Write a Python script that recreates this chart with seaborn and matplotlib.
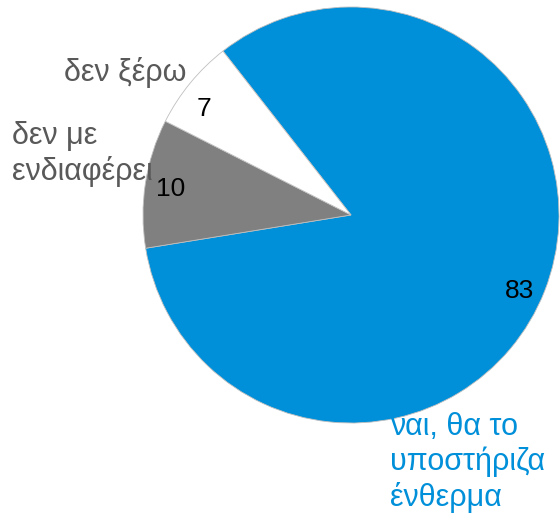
import matplotlib
matplotlib.use("Agg")
import matplotlib.pyplot as plt
import seaborn as sns
import numpy as np

labels = ["ναι, θα το\nυποστήριζα\nένθερμα", "δεν με\nενδιαφέρει", "δεν ξέρω"]
values = [83, 10, 7]
colors = ["#008fd9", "#808080", "#ffffff"]
label_colors = ["#008fd9", "#595959", "#595959"]

sns.set_theme(style="white")
plt.rcParams['font.family'] = ['Liberation Sans', 'DejaVu Sans']

fig = plt.figure(figsize=(5.6, 5.18), dpi=100)
# pie centre (351, 215) px, radius 208 px
ax = fig.add_axes([143 / 560, 95 / 518, 416 / 560, 416 / 518])
wedges, texts = ax.pie(values, colors=colors, startangle=128, counterclock=False,
                       wedgeprops=dict(edgecolor="#bfbfbf", linewidth=0.6))
ax.set_xlim(-1, 1)
ax.set_ylim(-1, 1)
ax.axis("off")

# value labels: (radius, angle) of each label inside its slice
num_pos = [(0.885, -23.5), (0.877, 171.0), (0.88, 143.5)]
for v, (r, a) in zip(values, num_pos):
    t = np.deg2rad(a)
    ax.text(r * np.cos(t), r * np.sin(t), str(v), ha="center", va="center_baseline",
            fontsize=19, color="black")

# category labels (manually placed as in the original chart)
pos = [(0.1875, -1.19, "left"), (-1.63, 0.293, "left"), (-0.793, 0.683, "right")]
for lab, c, (x, y, ha) in zip(labels, label_colors, pos):
    ax.text(x, y, lab, ha=ha, va="center", fontsize=22, color=c, linespacing=1.2,
            clip_on=False)

fig.savefig("out.png", dpi=100)
